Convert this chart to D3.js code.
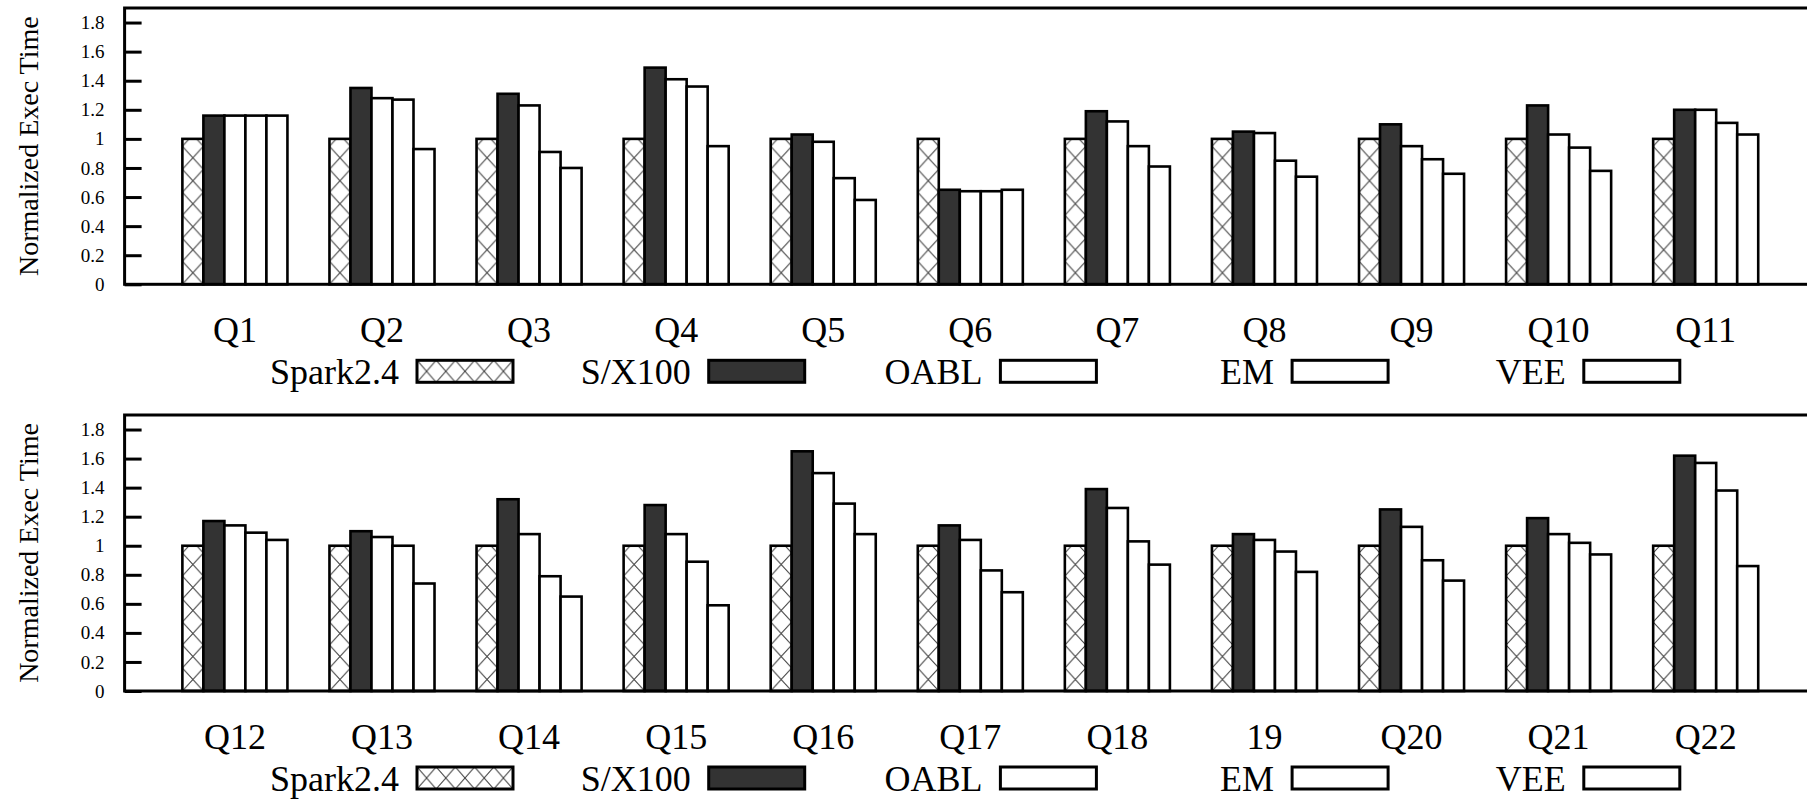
<!DOCTYPE html>
<html>
<head>
<meta charset="utf-8">
<script src="https://cdn.jsdelivr.net/npm/d3@7"></script>
<style>
  html, body { margin: 0; padding: 0; background: #fff; }
  svg { display: block; }
  text { font-family: "Liberation Serif", "Times New Roman", Times, serif; fill: #000; }
</style>
</head>
<body>
<svg id="chart" width="1807" height="801"></svg>
<script>
// Query groups for each panel
const queriesTop = ["Q1", "Q2", "Q3", "Q4", "Q5", "Q6", "Q7", "Q8", "Q9", "Q10", "Q11"];
const queriesBottom = ["Q12", "Q13", "Q14", "Q15", "Q16", "Q17", "Q18", "19", "Q20", "Q21", "Q22"];

// Engines, in drawing order
const engines = ["Spark2.4", "S/X100", "OABL", "EM", "VEE"];

// Normalized execution time (Spark2.4 = 1)
const sparkTop  = [1, 1, 1, 1, 1, 1, 1, 1, 1, 1, 1];
const sx100Top  = [1.16, 1.35, 1.31, 1.49, 1.03, 0.65, 1.19, 1.05, 1.10, 1.23, 1.20];
const oablTop   = [1.16, 1.28, 1.23, 1.41, 0.98, 0.64, 1.12, 1.04, 0.95, 1.03, 1.20];
const emTop     = [1.16, 1.27, 0.91, 1.36, 0.73, 0.64, 0.95, 0.85, 0.86, 0.94, 1.11];
const veeTop    = [1.16, 0.93, 0.80, 0.95, 0.58, 0.65, 0.81, 0.74, 0.76, 0.78, 1.03];

const sparkBottom = [1, 1, 1, 1, 1, 1, 1, 1, 1, 1, 1];
const sx100Bottom = [1.17, 1.10, 1.32, 1.28, 1.65, 1.14, 1.39, 1.08, 1.25, 1.19, 1.62];
const oablBottom  = [1.14, 1.06, 1.08, 1.08, 1.50, 1.04, 1.26, 1.04, 1.13, 1.08, 1.57];
const emBottom    = [1.09, 1.00, 0.79, 0.89, 1.29, 0.83, 1.03, 0.96, 0.90, 1.02, 1.38];
const veeBottom   = [1.04, 0.74, 0.65, 0.59, 1.08, 0.68, 0.87, 0.82, 0.76, 0.94, 0.86];

const yTicks = [0, 0.2, 0.4, 0.6, 0.8, 1, 1.2, 1.4, 1.6, 1.8];
const yLabel = "Normalized Exec Time";

// ---- layout ----
const svg = d3.select("#chart");
const plotLeft = 124.6, plotRight = 1816;
const fills = [null, "#333333", "#ffffff", "#ffffff", "#ffffff"];

const x = d3.scaleLinear().domain([-0.75, 10.75]).range([plotLeft, plotRight]);
const bw = (x(1) - x(0)) / 7;   // five bars + a two-bar gap per group

const defs = svg.append("defs");

// crosshatch tile anchored at (px, py)
function hatchPattern(id, px, py, w, h) {
  const p = defs.append("pattern")
    .attr("id", id)
    .attr("patternUnits", "userSpaceOnUse")
    .attr("x", px).attr("y", py)
    .attr("width", w).attr("height", h);
  p.append("rect").attr("width", w).attr("height", h).attr("fill", "#fff");
  p.append("line").attr("x1", 0).attr("y1", 0).attr("x2", w).attr("y2", h)
    .attr("stroke", "#444").attr("stroke-width", 1.1);
  p.append("line").attr("x1", w).attr("y1", 0).attr("x2", 0).attr("y2", h)
    .attr("stroke", "#444").attr("stroke-width", 1.1);
}

const panels = [
  { id: "top", cats: queriesTop, series: [sparkTop, sx100Top, oablTop, emTop, veeTop], top: 8, base: 284.3 },
  { id: "bottom", cats: queriesBottom, series: [sparkBottom, sx100Bottom, oablBottom, emBottom, veeBottom], top: 415, base: 691 }
];

const legendX0 = 417, legendStep = 291.7, legendW = 96, legendH = 22;

panels.forEach(p => {
  const y = d3.scaleLinear().domain([0, 1.9]).range([p.base, p.top]);
  const g = svg.append("g").attr("class", "panel-" + p.id);

  hatchPattern("hatch-" + p.id, x(0) - 2.5 * bw, p.base, bw, 23);
  hatchPattern("hatch-legend-" + p.id, legendX0, p.base + 76, legendW / 5, legendH);

  // bars
  p.series.forEach((vals, s) => {
    g.append("g").attr("class", "series")
      .selectAll("rect")
      .data(vals)
      .join("rect")
      .attr("x", (d, i) => x(i) + (s - 2.5) * bw)
      .attr("width", bw)
      .attr("y", d => y(d))
      .attr("height", d => y(0) - y(d))
      .attr("fill", s === 0 ? `url(#hatch-${p.id})` : fills[s])
      .attr("stroke", "#000")
      .attr("stroke-width", 2.6);
  });

  // y axis with inward ticks
  const yAxis = d3.axisLeft(y)
    .tickValues(yTicks)
    .tickSize(-17)
    .tickPadding(20)
    .tickFormat(d => String(+d.toFixed(1)));
  const ax = g.append("g").attr("transform", `translate(${plotLeft},0)`).call(yAxis);
  ax.attr("font-family", null);
  ax.select(".domain").remove();
  ax.selectAll(".tick line").attr("stroke", "#000").attr("stroke-width", 3);
  ax.selectAll(".tick text")
    .style("font-family", '"Liberation Serif", "Times New Roman", serif')
    .style("font-size", "19px").attr("fill", "#000");

  // frame
  g.append("rect")
    .attr("x", plotLeft).attr("y", p.top)
    .attr("width", plotRight - plotLeft).attr("height", p.base - p.top)
    .attr("fill", "none").attr("stroke", "#000").attr("stroke-width", 3);

  // y label
  g.append("text")
    .attr("transform", `translate(37.5,${(p.top + p.base) / 2}) rotate(-90)`)
    .attr("text-anchor", "middle")
    .style("font-size", "28px")
    .text(yLabel);

  // category labels
  g.append("g").selectAll("text")
    .data(p.cats)
    .join("text")
    .attr("x", (d, i) => x(i))
    .attr("y", p.base + 58)
    .attr("text-anchor", "middle")
    .style("font-size", "36px")
    .text(d => d);

  // legend
  const lg = g.append("g").attr("class", "legend");
  engines.forEach((name, i) => {
    const bx = legendX0 + i * legendStep;
    lg.append("text")
      .attr("x", bx - 18)
      .attr("y", p.base + 100)
      .attr("text-anchor", "end")
      .style("font-size", "36px")
      .text(name);
    lg.append("rect")
      .attr("x", bx).attr("y", p.base + 76)
      .attr("width", legendW).attr("height", legendH)
      .attr("fill", i === 0 ? `url(#hatch-legend-${p.id})` : fills[i])
      .attr("stroke", "#000").attr("stroke-width", 3);
  });
});
</script>
</body>
</html>
